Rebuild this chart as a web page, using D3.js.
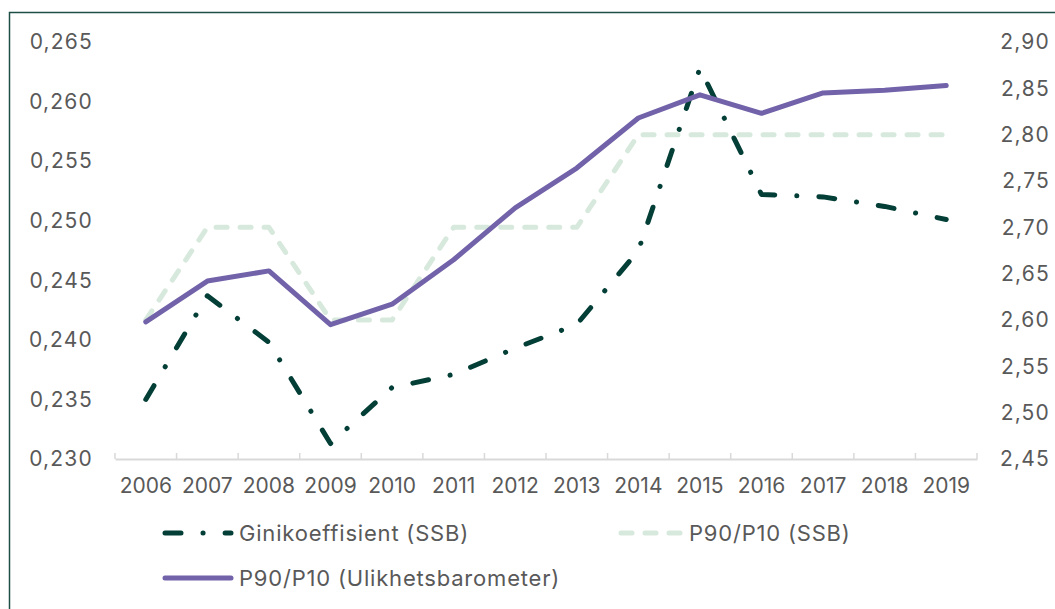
<!DOCTYPE html>
<html>
<head>
<meta charset="utf-8">
<script src="https://cdn.jsdelivr.net/npm/d3@7"></script>
<style>
  body { margin: 0; background: #fff; }
  svg { display: block; font-family: Inter, "Noto Sans", sans-serif; }
</style>
</head>
<body>
<script>
// Data
const years = ["2006", "2007", "2008", "2009", "2010", "2011", "2012", "2013", "2014", "2015", "2016", "2017", "2018", "2019"];
const gini = [0.2350, 0.2437, 0.2398, 0.2313, 0.2360, 0.2371, 0.2393, 0.2413, 0.2475, 0.2628, 0.2522, 0.2520, 0.2512, 0.2501];
const p9010Ssb = [2.60, 2.70, 2.70, 2.60, 2.60, 2.70, 2.70, 2.70, 2.80, 2.80, 2.80, 2.80, 2.80, 2.80];
const p9010Ulik = [2.598, 2.642, 2.653, 2.595, 2.617, 2.665, 2.721, 2.764, 2.818, 2.843, 2.823, 2.845, 2.848, 2.853];
const leftTicks = [0.230, 0.235, 0.240, 0.245, 0.250, 0.255, 0.260, 0.265];
const rightTicks = [2.45, 2.50, 2.55, 2.60, 2.65, 2.70, 2.75, 2.80, 2.85, 2.90];
const legendNames = ["Ginikoeffisient (SSB)", "P90/P10 (SSB)", "P90/P10 (Ulikhetsbarometer)"];

const width = 1055;
const height = 609;

const textColor = "#595959";
const giniColor = "#033f36";
const ssbColor = "#d7e9dc";
const ulikColor = "#7262a9";

const svg = d3.select("body")
  .append("svg")
  .attr("width", width)
  .attr("height", height);

svg.append("rect")
  .attr("width", width)
  .attr("height", height)
  .attr("fill", "#fff");

// frame, only left and top edges visible
svg.append("path")
  .attr("d", "M9.5," + height + "V12.5H" + width)
  .attr("fill", "none")
  .attr("stroke", "#1d4f46")
  .attr("stroke-width", 1.5);

// scales
const x = d3.scaleBand()
  .domain(years)
  .range([115, 977]);

const yLeft = d3.scaleLinear()
  .domain([0.230, 0.265])
  .range([459, 42]);

const yRight = d3.scaleLinear()
  .domain([2.45, 2.90])
  .range([459, 42]);

const cx = d => x(d) + x.bandwidth() / 2;

// axis labels
const fmt3 = d => d3.format(".3f")(d).replace(".", ",");
const fmt2 = d => d3.format(".2f")(d).replace(".", ",");

const leftAxis = svg.append("g")
  .attr("transform", "translate(93,0)")
  .call(d3.axisLeft(yLeft).tickValues(leftTicks).tickFormat(fmt3).tickSize(0).tickPadding(0));

const rightAxis = svg.append("g")
  .attr("transform", "translate(1050,0)")
  .call(d3.axisLeft(yRight).tickValues(rightTicks).tickFormat(fmt2).tickSize(0).tickPadding(0));

[leftAxis, rightAxis].forEach(g => {
  g.select(".domain").remove();
  g.selectAll("text")
    .attr("fill", textColor)
    .style("font-size", "21px")
    .style("letter-spacing", "1.2px")
    .style("font-family", "Inter, sans-serif");
});

// x axis: labels
const xAxis = svg.append("g")
  .attr("transform", "translate(0,459)")
  .call(d3.axisBottom(x).tickSize(0).tickPadding(19));

xAxis.select(".domain")
  .attr("stroke", "#d9d9d9")
  .attr("stroke-width", 2);

xAxis.selectAll("text")
  .attr("fill", textColor)
  .style("font-size", "21px")
  .style("font-family", "Inter, sans-serif");

// tick marks between categories
const tickPos = years.map(d => x(d)).concat([x.range()[1]]);
svg.append("g")
  .selectAll("line")
  .data(tickPos)
  .enter()
  .append("line")
  .attr("x1", d => d)
  .attr("x2", d => d)
  .attr("y1", 453)
  .attr("y2", 459)
  .attr("stroke", "#d9d9d9")
  .attr("stroke-width", 1.5);

// lines
const lineLeft = d3.line()
  .x((d, i) => cx(years[i]))
  .y(d => yLeft(d));

const lineRight = d3.line()
  .x((d, i) => cx(years[i]))
  .y(d => yRight(d));

svg.append("path")
  .datum(p9010Ssb)
  .attr("d", lineRight)
  .attr("fill", "none")
  .attr("stroke", ssbColor)
  .attr("stroke-width", 5)
  .attr("stroke-linecap", "round")
  .attr("stroke-linejoin", "round")
  .attr("stroke-dasharray", "11 13");

svg.append("path")
  .datum(gini)
  .attr("d", lineLeft)
  .attr("fill", "none")
  .attr("stroke", giniColor)
  .attr("stroke-width", 5)
  .attr("stroke-linecap", "round")
  .attr("stroke-linejoin", "round")
  .attr("stroke-dasharray", "16 22 0.1 22");

svg.append("path")
  .datum(p9010Ulik)
  .attr("d", lineRight)
  .attr("fill", "none")
  .attr("stroke", ulikColor)
  .attr("stroke-width", 5)
  .attr("stroke-linecap", "round")
  .attr("stroke-linejoin", "round");

// legend
const legendItems = [
  { name: legendNames[0], color: giniColor, dash: "16 22 0.1 22", x: 165, y: 533, len: 66 },
  { name: legendNames[1], color: ssbColor, dash: "11 13", x: 621, y: 533, len: 60 },
  { name: legendNames[2], color: ulikColor, dash: null, x: 165, y: 578, len: 66 }
];

const legend = svg.append("g")
  .selectAll("g")
  .data(legendItems)
  .enter()
  .append("g");

legend.append("line")
  .attr("x1", d => d.x)
  .attr("x2", d => d.x + d.len)
  .attr("y1", d => d.y)
  .attr("y2", d => d.y)
  .attr("stroke", d => d.color)
  .attr("stroke-width", 5)
  .attr("stroke-linecap", "round")
  .attr("stroke-dasharray", d => d.dash);

legend.append("text")
  .attr("x", d => d.x + d.len + 8)
  .attr("y", d => d.y)
  .attr("dy", "0.35em")
  .attr("fill", textColor)
  .style("font-size", "22px")
  .style("letter-spacing", "0.8px")
  .text(d => d.name);
</script>
</body>
</html>
